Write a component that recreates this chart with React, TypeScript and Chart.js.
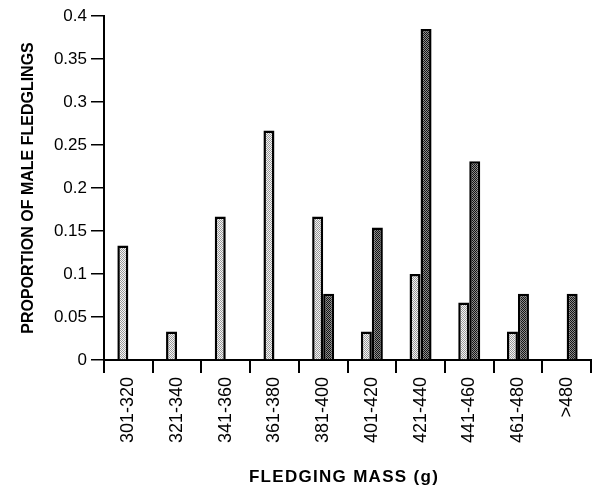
import React, { useEffect, useRef } from "react";
import { Chart, registerables } from "chart.js";

Chart.register(...registerables);

const categories = ["301-320", "321-340", "341-360", "361-380", "381-400", "401-420", "421-440", "441-460", "461-480", ">480"];
const lightValues = [0.133, 0.033, 0.167, 0.267, 0.167, 0.033, 0.1, 0.067, 0.033, 0];
const darkValues = [0, 0, 0, 0, 0.077, 0.154, 0.385, 0.231, 0.077, 0.077];
const yTicks = [0, 0.05, 0.1, 0.15, 0.2, 0.25, 0.3, 0.35, 0.4];
const yTitle = "PROPORTION OF MALE FLEDGLINGS";
const xTitle = "FLEDGING MASS (g)";

function makePattern(a: string, b: string): CanvasPattern | string {
  const c = document.createElement("canvas");
  c.width = 2;
  c.height = 2;
  const ctx = c.getContext("2d");
  if (!ctx) return a;
  ctx.fillStyle = a;
  ctx.fillRect(0, 0, 2, 2);
  ctx.fillStyle = b;
  ctx.fillRect(0, 0, 1, 1);
  ctx.fillRect(1, 1, 1, 1);
  const p = ctx.createPattern(c, "repeat");
  return p || a;
}

const FONT = "'Liberation Sans', Arial, Helvetica, sans-serif";

const titlesPlugin = {
  id: "axisTitles",
  afterDraw(chart: any) {
    const ctx = chart.ctx as CanvasRenderingContext2D;
    const area = chart.chartArea;
    ctx.save();
    ctx.fillStyle = "#000";
    ctx.font = `bold 16px ${FONT}`;
    ctx.textAlign = "center";
    ctx.textBaseline = "middle";
    ctx.translate(29, (area.top + area.bottom) / 2);
    ctx.rotate(-Math.PI / 2);
    ctx.fillText(yTitle, 0, 0);
    ctx.restore();
    ctx.save();
    ctx.fillStyle = "#000";
    ctx.font = `bold 17px ${FONT}`;
    (ctx as any).letterSpacing = "1.3px";
    ctx.textAlign = "center";
    ctx.textBaseline = "alphabetic";
    ctx.fillText(xTitle, 344, 482);
    ctx.restore();
  },
};

export default function App() {
  const ref = useRef<HTMLCanvasElement | null>(null);
  useEffect(() => {
    document.body.style.margin = "0";
    const canvas = ref.current;
    if (!canvas) return;
    const lightPat = makePattern("#f4f4f4", "#999999");
    const darkPat = makePattern("#8c8c8c", "#141414");
    const chart = new Chart(canvas, {
      type: "bar",
      data: {
        labels: categories,
        datasets: [
          {
            label: "light",
            data: lightValues,
            backgroundColor: lightPat as any,
            borderColor: "#000",
            borderWidth: 2.5,
            categoryPercentage: 0.452,
            barPercentage: 1.0,
          },
          {
            label: "dark",
            data: darkValues,
            backgroundColor: darkPat as any,
            borderColor: "#000",
            borderWidth: 2.5,
            categoryPercentage: 0.452,
            barPercentage: 1.0,
          },
        ],
      },
      options: {
        responsive: false,
        animation: false,
        layout: { padding: { left: 0, right: 2, top: 16, bottom: 0 } },
        plugins: {
          legend: { display: false },
          tooltip: { enabled: false },
        },
        scales: {
          x: {
            offset: true,
            grid: {
              offset: true,
              drawOnChartArea: false,
              drawTicks: true,
              tickLength: 13,
              color: "#000",
              lineWidth: 2,
            },
            border: { display: true, color: "#000", width: 2 },
            ticks: {
              color: "#000",
              font: { family: FONT, size: 18 },
              minRotation: 90,
              maxRotation: 90,
              padding: 4,
              autoSkip: false,
            },
            afterFit: (s: any) => {
              s.height = 137;
            },
          },
          y: {
            min: 0,
            max: 0.4,
            afterBuildTicks: (s: any) => {
              s.ticks = yTicks.map((v) => ({ value: v }));
            },
            grid: {
              drawOnChartArea: false,
              drawTicks: true,
              tickLength: 13,
              color: "#000",
              lineWidth: 1.5,
            },
            border: { display: true, color: "#000", width: 2 },
            ticks: {
              color: "#000",
              font: { family: FONT, size: 17 },
              padding: 4,
              callback: (v: any) => String(+Number(v).toFixed(2)),
            },
            afterFit: (s: any) => {
              s.width = 104;
            },
          },
        },
      },
      plugins: [titlesPlugin],
    });
    return () => chart.destroy();
  }, []);
  return (
    <div style={{ position: "absolute", left: 0, top: 0, width: 593, height: 497, background: "#fff" }}>
      <canvas ref={ref} width={593} height={497} style={{ display: "block" }} />
    </div>
  );
}
